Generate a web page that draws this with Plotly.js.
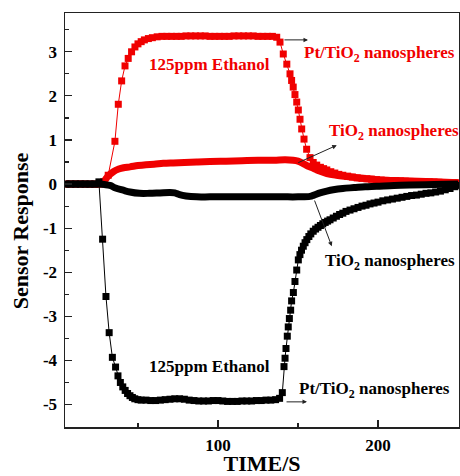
<!DOCTYPE html>
<html>
<head>
<meta charset="utf-8">
<script src="https://cdn.plot.ly/plotly-3.0.1.min.js"></script>
<style>html,body{margin:0;padding:0;background:#fff;}#chart{width:460px;height:476px;}</style>
</head>
<body>
<div id="chart"></div>
<script>
// ---- Data ----
// Pt/TiO2 nanospheres, black (negative response)
var ptBlackT = [5,8,11,14,17,20,23,25.6,27.9,30,32,34,36,37.5,39,40.5,42,43.5,45,46.5,48,50,52,55,58,61,64,67,70,73,76,79,82,85,88,91,94,97,100,103,106,109,112,115,118,121,124,127,130,133,136,138.5,140.2,141.25,141.9,142.5,143.3,143.9,144.6,145.4,146,147.1,148.1,149.2,150.2,151.2,152.2,153.3,154.4,155.5,156.8,158,159.5,161,162.5,164,165.5,167,168.5,170,172,174,176,178,180,182.5,185,187.5,190,192.5,195,197.5,200,203,206,209,212,215,218,221,224,227,230,233,236,239,242,245,248,250];
var ptBlackY = [0,0,0,0,0,0,0,0.05,-1.25,-2.55,-3.37,-3.93,-4.15,-4.35,-4.5,-4.6,-4.68,-4.75,-4.8,-4.84,-4.87,-4.89,-4.9,-4.9,-4.91,-4.91,-4.9,-4.89,-4.88,-4.87,-4.87,-4.88,-4.9,-4.91,-4.92,-4.92,-4.92,-4.91,-4.91,-4.92,-4.93,-4.93,-4.93,-4.92,-4.92,-4.92,-4.91,-4.91,-4.9,-4.9,-4.89,-4.86,-4.73,-4.14,-3.95,-3.73,-3.45,-3.24,-3.05,-2.86,-2.65,-2.46,-2.21,-1.95,-1.72,-1.6,-1.5,-1.41,-1.33,-1.26,-1.19,-1.13,-1.07,-1.02,-0.98,-0.94,-0.9,-0.87,-0.84,-0.81,-0.77,-0.73,-0.69,-0.66,-0.62,-0.59,-0.56,-0.53,-0.5,-0.48,-0.45,-0.43,-0.41,-0.38,-0.36,-0.34,-0.32,-0.3,-0.28,-0.26,-0.25,-0.23,-0.21,-0.2,-0.18,-0.16,-0.13,-0.1,-0.06,-0.03];

// Pt/TiO2 nanospheres, red (positive)
var ptRedT = [5,8,11,14,17,20,23,26,28.5,31.4,35.6,37.7,39.8,41.9,43.9,46,48.1,50,52,54,56.5,59,62,65,68,71,74,77,80,83,86,89,92,95,98,101,104,107,110,113,116,119,122,125,128,131,134,136.7,138.75,140.8,143,145,146,147,148.1,149.2,150.2,151.25,152.3,153.75,155.4,157.5,159.5,161.7,164,166,168,170.5,173,175.5,178,181,184,187,190,193,196,199,202,205,208,211,214,217,220,223,226,229,232,235,238,241,244,247,250];
var ptRedY = [0,0,0,0,0,0,0,0,0.05,0.2,0.97,1.81,2.34,2.68,2.85,3.0,3.11,3.18,3.23,3.27,3.3,3.32,3.34,3.35,3.35,3.35,3.35,3.35,3.36,3.36,3.36,3.36,3.36,3.35,3.35,3.35,3.35,3.35,3.36,3.36,3.36,3.36,3.36,3.35,3.35,3.35,3.35,3.33,3.22,2.95,2.72,2.5,2.35,2.2,2.03,1.86,1.68,1.47,1.25,1.02,0.79,0.6,0.49,0.43,0.38,0.35,0.32,0.28,0.25,0.22,0.2,0.18,0.16,0.14,0.13,0.12,0.11,0.1,0.09,0.085,0.08,0.075,0.07,0.065,0.06,0.058,0.055,0.052,0.05,0.045,0.04,0.035,0.03,0.03,0.03];

// TiO2 nanospheres, red (positive)
var tiRedT = [5,15,26,28,29.4,31,34.6,38,41,45,50,55,60,65.8,72,79,86.7,95,105,115,125,135,142,147,150,153,156,159.6,163,168,174,180.4,190,199,210,220,235,250];
var tiRedY = [0,0,0,0.03,0.09,0.17,0.28,0.34,0.37,0.39,0.42,0.44,0.45,0.47,0.48,0.49,0.5,0.51,0.52,0.53,0.54,0.54,0.55,0.54,0.52,0.47,0.41,0.36,0.3,0.24,0.2,0.17,0.13,0.1,0.08,0.07,0.05,0.03];

// TiO2 nanospheres, black (negative)
var tiBlackT = [5,15,26,29,32.5,36,40.8,45,51,57,63.75,70,73,76,80,86.7,95,110,126,140,150,157.5,160,163.75,168,172,178,185,192,199,210,220,235,250];
var tiBlackY = [0,0,0,-0.01,-0.03,-0.09,-0.14,-0.18,-0.21,-0.21,-0.2,-0.19,-0.2,-0.24,-0.27,-0.29,-0.29,-0.29,-0.29,-0.29,-0.29,-0.28,-0.25,-0.2,-0.16,-0.13,-0.1,-0.08,-0.06,-0.05,-0.03,-0.02,-0.01,0];

// Axis ticks
var xTickVals = [100, 200];
var xTickText = ['100', '200'];
var yTickVals = [3, 2, 1, 0, -1, -2, -3, -4, -5];
var yTickText = ['3', '2', '1', '0', '-1', '-2', '-3', '-4', '-5'];

// Labels
var labelEthanol = '125ppm Ethanol';
var labelPt = 'Pt/TiO<sub>2</sub> nanospheres';
var labelTi = 'TiO<sub>2</sub> nanospheres';
var xTitle = 'TIME/S';
var yTitle = 'Sensor Response&nbsp;&nbsp;&nbsp;&nbsp;';

var RED = '#f00000';
var BLK = '#000000';
var FONT = 'Liberation Serif, Times New Roman, serif';

var traces = [
  {x: tiRedT, y: tiRedY, mode: 'lines', line: {color: RED, width: 7, shape: 'spline'}, hoverinfo: 'skip'},
  {x: ptRedT, y: ptRedY, mode: 'lines+markers', line: {color: RED, width: 1}, marker: {symbol: 'square', size: 7, color: RED}, hoverinfo: 'skip'},
  {x: tiBlackT, y: tiBlackY, mode: 'lines', line: {color: BLK, width: 7, shape: 'spline'}, hoverinfo: 'skip'},
  {x: ptBlackT, y: ptBlackY, mode: 'lines+markers', line: {color: BLK, width: 1}, marker: {symbol: 'square', size: 7, color: BLK}, hoverinfo: 'skip'}
];

function txt(t, x, y, color, xanchor) {
  return {text: t, x: x, y: y, xref: 'x', yref: 'y', showarrow: false, xanchor: xanchor, yanchor: 'middle',
          font: {family: FONT, size: 17, color: color, weight: 'bold'}};
}
function arrow(x0, y0, x1, y1) {
  return {text: '', x: x1, y: y1, ax: x0, ay: y0, xref: 'x', yref: 'y', axref: 'x', ayref: 'y',
          showarrow: true, arrowhead: 2, arrowsize: 0.9, arrowwidth: 1, arrowcolor: '#222', standoff: 0, startstandoff: 0};
}

var layout = {
  width: 460, height: 476,
  margin: {l: 65, r: 1, t: 13, b: 49},
  paper_bgcolor: '#fff', plot_bgcolor: '#fff',
  showlegend: false,
  font: {family: FONT, color: '#000'},
  xaxis: {
    range: [4.4, 250.6], showgrid: false, zeroline: false,
    showline: true, linecolor: '#222', linewidth: 1.5, mirror: true,
    tickmode: 'array', tickvals: xTickVals, ticktext: xTickText,
    ticks: 'inside', ticklen: 7, tickwidth: 1.2, tickcolor: '#222',
    minor: {dtick: 50, tick0: 0, ticks: 'inside', ticklen: 4, tickwidth: 1.2, tickcolor: '#222'},
    tickfont: {family: FONT, size: 17, color: '#000', weight: 'bold'},
    ticklabelstandoff: 2,
    title: {text: xTitle, font: {family: FONT, size: 22, color: '#000', weight: 'bold'}, standoff: 9}
  },
  yaxis: {
    range: [-5.51, 3.88], showgrid: false, zeroline: false,
    showline: true, linecolor: '#222', linewidth: 1.5, mirror: true,
    tickmode: 'array', tickvals: yTickVals, ticktext: yTickText,
    ticks: 'inside', ticklen: 7, tickwidth: 1.2, tickcolor: '#222',
    minor: {dtick: 0.5, tick0: 0, ticks: 'inside', ticklen: 4, tickwidth: 1.2, tickcolor: '#222'},
    tickfont: {family: FONT, size: 17, color: '#000', weight: 'bold'},
    ticklabelstandoff: 3,
    title: {text: yTitle, font: {family: FONT, size: 22, color: '#000', weight: 'bold'}, standoff: 8}
  },
  annotations: [
    txt(labelEthanol, 94.8, 2.72, RED, 'center'),
    txt(labelPt, 152.3, 2.95, RED, 'left'),
    txt(labelTi, 168, 1.17, RED, 'left'),
    txt(labelTi, 165.8, -1.77, BLK, 'left'),
    txt(labelEthanol, 94.4, -4.14, BLK, 'center'),
    txt(labelPt, 149.2, -4.68, BLK, 'left'),
    arrow(140.6, 3.27, 156.25, 3.27),
    arrow(149.2, 0.47, 174.2, 0.88),
    arrow(160, -0.34, 171.1, -1.41),
    arrow(141.9, -4.94, 155.6, -4.94)
  ]
};

Plotly.newPlot('chart', traces, layout, {staticPlot: true, displayModeBar: false});
</script>
</body>
</html>
